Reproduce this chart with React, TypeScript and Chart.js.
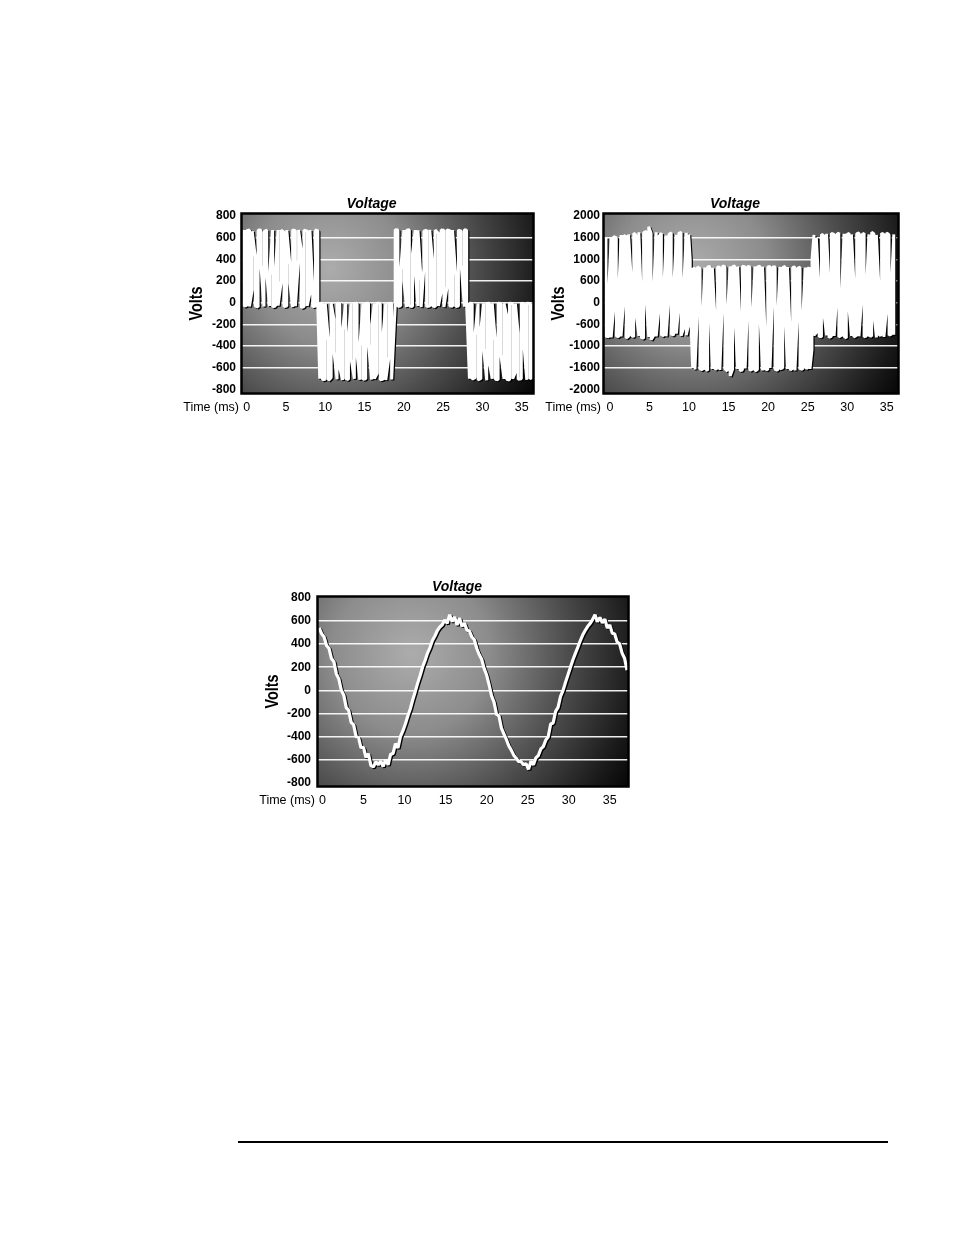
import React, { useEffect, useRef } from 'react';
import { Chart, registerables, LinearScale } from 'chart.js';

Chart.register(...registerables);

// ---------------- shared axis data ----------------
const X_TICKS = [0, 5, 10, 15, 20, 25, 30, 35];
const Y_TICKS_800 = [-800, -600, -400, -200, 0, 200, 400, 600, 800];
const Y_TICKS_2000 = [-2000, -1600, -1000, -600, 0, 600, 1000, 1600, 2000];

const TITLE = 'Voltage';
const Y_TITLE = 'Volts';
const X_TITLE = 'Time (ms)';

// ---------------- chart 1: two-level PWM (pulse time, top, bottom in volts) ----------------
const P1_TIME = [
  -0.35, 0.0, 0.35, 0.7, 1.1, 1.45, 1.8, 2.2, 2.55, 2.9, 3.3, 3.65, 4.0, 4.4, 4.75, 5.1, 5.5, 5.85, 6.2, 6.6, 6.95, 7.3, 7.7, 8.05, 8.4, 8.75, 9.05,
  9.3, 9.65, 10.0, 10.4, 10.75, 11.1, 11.5, 11.85, 12.2, 12.6, 12.95, 13.3, 13.7, 14.05, 14.4, 14.8, 15.15, 15.5, 15.9, 16.25, 16.6, 17.0, 17.35, 17.7, 18.1, 18.45,
  18.9, 19.25, 19.6, 20.0, 20.35, 20.7, 21.1, 21.45, 21.8, 22.2, 22.55, 22.9, 23.3, 23.65, 24.0, 24.4, 24.75, 25.1, 25.5, 25.85, 26.2, 26.6, 26.95, 27.3, 27.7, 28.0,
  28.35, 28.7, 29.05, 29.45, 29.8, 30.15, 30.55, 30.9, 31.25, 31.65, 32.0, 32.35, 32.75, 33.1, 33.45, 33.85, 34.2, 34.55, 34.95, 35.3, 35.65, 36.05, 36.3,
];
const P1_HIGH = [
  670, 665, 670, 660, 420, 668, 670, 655, 670, 250, 670, 300, 670, 668, 650, 670, 350, 672, 665, 670, 480, 670, 660, 670, 150, 670, 665,
  -5, -8, -5, -350, -5, -150, -5, -8, -250, -6, -300, -5, -8, -5, -400, -5, -6, -5, -200, -8, -5, -5, -300, -5, -8, -5,
  672, 670, 300, 670, 668, 672, 450, 670, 668, 200, 660, 670, 672, 380, 670, 640, 670, 668, 672, 665, 670, 250, 670, 660, 672, 668,
  -5, -8, -300, -6, -250, -5, -8, -5, -5, -350, -5, -8, -5, -120, -5, -6, -8, -280, -5, -10, -5, -8, -5,
];
const P1_LOW = [
  -30, -25, -35, 120, -30, -40, 350, -35, 260, -30, -38, -30, -25, 200, -35, -30, 180, -40, -32, 400, -45, -35, -30, 90, -38, -30, -35,
  -700, -710, -705, -715, -690, -450, -705, -600, -712, -700, -708, -520, -700, -480, -710, -705, -700, -380, -708, -700, -650, -710, -705, -712, -500, -708,
  -30, -35, -28, 200, -40, -30, -35, 280, -30, -40, 320, -35, -30, -28, -38, -30, 100, -40, 150, -30, -32, -35, -30, 350, -35, -30,
  -700, -705, -690, -710, -700, -420, -715, -560, -700, -705, -710, -480, -700, -705, -712, -700, -640, -705, -700, -400, -710, -700, -690,
];

// ---------------- chart 2: multi-level PWM ----------------
const P2_TIME = [
  -0.5, -0.15, 0.15, 0.45, 0.8, 1.1, 1.4, 1.75, 2.05, 2.35, 2.7, 3.0, 3.3, 3.65, 3.95, 4.25, 4.6, 4.9, 5.2, 5.55, 5.85, 6.15, 6.5, 6.8, 7.1, 7.45, 7.75, 8.05, 8.4, 8.7, 9.0, 9.35, 9.65, 9.95,
  10.15,
  10.45, 10.75, 11.05, 11.4, 11.7, 12.0, 12.35, 12.65, 12.95, 13.3, 13.6, 13.9, 14.25, 14.55, 14.85, 15.2, 15.5, 15.8, 16.15, 16.45, 16.75, 17.1, 17.4, 17.7, 18.05, 18.35, 18.65, 19.0, 19.3, 19.6, 19.95, 20.25, 20.55, 20.9, 21.2, 21.5, 21.85, 22.15, 22.45, 22.8, 23.1, 23.4, 23.75, 24.05, 24.35, 24.7, 25.0, 25.3,
  25.55,
  25.8, 26.1, 26.45, 26.75, 27.05, 27.4, 27.7, 28.0, 28.35, 28.65, 28.95, 29.3, 29.6, 29.9, 30.25, 30.55, 30.85, 31.2, 31.5, 31.8, 32.15, 32.45, 32.75, 33.1, 33.4, 33.7, 34.05, 34.35, 34.65, 35.0, 35.3, 35.6, 35.9,
];
const P2_HIGH = [
  1600, 450, 1610, 1620, 1600, 300, 1650, 1640, 1620, 1660, 600, 1680, 1650, 1700, 200, 1690, 1720, 1800, 1680, 500, 1700, 1620, 1680, 350, 1640, 1660, 1690, 400, 1650, 1680, 1700, 600, 1690, 1660,
  1000,
  820, 840, 860, 830, -400, 850, 860, 870, 850, -500, 860, 855, 880, 860, -300, 870, 865, 880, 870, -600, 875, 860, 870, 865, -200, 870, 860, 875, 865, -700, 860, 870, 855, 865, -400, 860, 850, 870, 860, -800, 850, 860, 840, 855, -500, 850, 840, 830,
  1000,
  1650, 1600, 400, 1660, 1640, 1670, 500, 1680, 1660, 1650, 1690, 300, 1670, 1650, 1680, 1660, 600, 1670, 1690, 1650, 1680, 450, 1660, 1700, 1670, 1650, 300, 1680, 1660, 1690, 1650, 500, 1660,
];
const P2_LOW = [
  -820, -830, -840, -200, -810, -830, -820, 100, -850, -820, -800, -830, -300, -810, -840, -860, 0, -830, -880, -800, -820, -250, -790, -810, -820, 150, -780, -800, -770, -100, -810, -650, -800, -600,
  0,
  -1600, -1630, -300, -1620, -1640, -1610, -1650, -200, -1620, -1630, -1600, -1640, 100, -1620, -1660, -1750, -1630, -400, -1620, -1650, -1640, -1610, -100, -1650, -1620, -1660, -1630, -500, -1650, -1620, -1640, -1600, 0, -1630, -1650, -1620, -1600, -300, -1620, -1640, -1610, -1650, -200, -1620, -1630, -1600, -1610, -1620,
  -1100,
  -800, -750, -820, -830, -300, -800, -840, -820, -810, 100, -830, -800, -820, -850, -200, -810, -830, -800, -820, 0, -830, -810, -800, -820, -350, -840, -800, -790, -830, -150, -800, -780, -790,
];

// ---------------- chart 3: filtered sine output ----------------
const S3_TIME = [
  -0.4, -0.1, 0.2, 0.5, 0.8, 1.1, 1.4, 1.7, 2.0, 2.3, 2.6, 2.9, 3.2, 3.5, 3.8, 4.1, 4.4, 4.7, 5.0, 5.3,
  5.6, 5.9, 6.2, 6.5, 6.8, 7.1, 7.4, 7.7, 8.0, 8.3, 8.6, 8.9, 9.2, 9.5, 9.8, 10.1, 10.4, 10.7, 11.0, 11.3,
  11.6, 11.9, 12.2, 12.5, 12.8, 13.1, 13.4, 13.7, 14.0, 14.3, 14.6, 14.9, 15.2, 15.5, 15.8, 16.1, 16.4, 16.7, 17.0, 17.3,
  17.6, 17.9, 18.2, 18.5, 18.8, 19.1, 19.4, 19.7, 20.0, 20.3, 20.6, 20.9, 21.2, 21.5, 21.8, 22.1, 22.4, 22.7, 23.0, 23.3,
  23.6, 23.9, 24.2, 24.5, 24.8, 25.1, 25.4, 25.7, 26.0, 26.3, 26.6, 26.9, 27.2, 27.5, 27.8, 28.1, 28.4, 28.7, 29.0, 29.3,
  29.6, 29.9, 30.2, 30.5, 30.8, 31.1, 31.4, 31.7, 32.0, 32.3, 32.6, 32.9, 33.2, 33.5, 33.8, 34.1, 34.4, 34.7, 35.0, 35.3,
  35.6, 35.9, 36.2, 36.5, 36.8, 37.1,
];
const S3_VOLTS = [
  540, 490, 462, 388, 362, 275, 246, 140, 98, 0, -42, -150, -175, -278, -300, -402, -410, -498, -495, -580,
  -550, -650, -665, -620, -645, -615, -660, -600, -645, -555, -548, -462, -500, -402, -352, -292, -222, -162, -82, -12,
  62, 128, 202, 258, 322, 370, 432, 470, 518, 548, 568, 610, 580, 655, 595, 635, 565, 625, 555, 580,
  522, 512, 462, 438, 362, 308, 268, 188, 132, 48, -48, -102, -208, -222, -328, -378, -426, -482, -518, -562,
  -588, -618, -618, -645, -635, -685, -615, -645, -585, -565, -508, -488, -432, -402, -292, -283, -182, -148, -52, -3,
  68, 132, 198, 262, 318, 372, 428, 478, 518, 552, 578, 612, 655, 595, 630, 585, 615, 540, 565, 495,
  488, 418, 402, 322, 278, 175,
];

const FONT = '"Liberation Sans", Arial, Helvetica, sans-serif';
Chart.defaults.font.family = FONT;

// Scale whose labelled ticks are evenly spaced although their values are not.
class SteppedVoltScale extends LinearScale {
  static id = 'steppedVolt';
  static defaults = {};
  valueToStep(v: number): number {
    const k = Y_TICKS_2000;
    const last = k.length - 1;
    if (v <= k[0]) return (v - k[0]) / (k[1] - k[0]);
    if (v >= k[last]) return last + (v - k[last]) / (k[last] - k[last - 1]);
    for (let i = 0; i < last; i++) {
      if (v >= k[i] && v <= k[i + 1]) return i + (v - k[i]) / (k[i + 1] - k[i]);
    }
    return 0;
  }
  getPixelForValue(value: number) {
    if (value === null || value === undefined || isNaN(value)) return NaN;
    const o: any = this.options;
    const s0 = this.valueToStep(o.min);
    const s1 = this.valueToStep(o.max);
    return this.getPixelForDecimal((this.valueToStep(value) - s0) / (s1 - s0));
  }
}
Chart.register(SteppedVoltScale as any);

function pulsePath(times: number[], highs: number[], lows: number[]) {
  const pts: { x: number; y: number }[] = [];
  times.forEach((t, i) => {
    if (i % 2 === 0) {
      pts.push({ x: t, y: highs[i] });
      pts.push({ x: t, y: lows[i] });
    } else {
      pts.push({ x: t, y: lows[i] });
      pts.push({ x: t, y: highs[i] });
    }
  });
  return pts;
}

function seriesPath(times: number[], values: number[]) {
  return times.map((t, i) => ({ x: t, y: values[i] }));
}

function decorPlugin() {
  return {
    id: 'decor',
    beforeDraw(chart: any) {
      const { ctx, chartArea: a } = chart;
      const w = a.right - a.left;
      const h = a.bottom - a.top;
      const cx = a.left + 0.3 * w;
      const cy = a.top + 0.3 * h;
      const g = ctx.createRadialGradient(cx, cy, 0, cx, cy, 0.85 * w);
      g.addColorStop(0, '#acacac');
      g.addColorStop(0.3, '#8c8c8c');
      g.addColorStop(0.6, '#4c4c4c');
      g.addColorStop(0.85, '#1a1a1a');
      g.addColorStop(1, '#000000');
      ctx.save();
      ctx.fillStyle = g;
      ctx.fillRect(a.left, a.top, w, h);
      ctx.restore();
    },
    beforeDatasetsDraw(chart: any) {
      const ctx = chart.ctx;
      ctx.save();
      ctx.shadowColor = 'rgba(0,0,0,1)';
      ctx.shadowOffsetX = 1.2;
      ctx.shadowOffsetY = 1;
      ctx.shadowBlur = 0;
    },
    afterDatasetsDraw(chart: any) {
      const { ctx, chartArea: a } = chart;
      ctx.restore();
      ctx.save();
      ctx.strokeStyle = '#000';
      ctx.lineWidth = 2.5;
      ctx.strokeRect(a.left - 0.5, a.top - 0.5, a.right - a.left + 1, a.bottom - a.top + 1);
      ctx.restore();
    },
    afterDraw(chart: any) {
      const { ctx, chartArea: a } = chart;
      ctx.save();
      ctx.fillStyle = '#000';
      ctx.textBaseline = 'middle';
      ctx.textAlign = 'center';
      ctx.font = `italic bold 14px ${FONT}`;
      ctx.fillText(TITLE, (a.left + a.right) / 2 - 16, a.top - 10);
      ctx.textAlign = 'right';
      ctx.font = `12.5px ${FONT}`;
      ctx.fillText(X_TITLE, a.left - 3, a.bottom + 14.5);
      ctx.translate(a.left - 45, (a.top + a.bottom) / 2);
      ctx.rotate(-Math.PI / 2);
      ctx.scale(0.8, 1);
      ctx.textAlign = 'center';
      ctx.font = `bold 18px ${FONT}`;
      ctx.fillText(Y_TITLE, 0, 0);
      ctx.restore();
    },
  };
}

type Opts = {
  points: { x: number; y: number }[];
  lineWidth: number;
  xMin: number;
  xMax: number;
  yMin: number;
  yMax: number;
  yTicks: number[];
  yType: string;
  yAxisW: number;
  xAxisH: number;
  padTop: number;
  padRight: number;
  yPad: number;
};

function buildConfig(o: Opts): any {
  const hidden = [o.yTicks[0], o.yTicks[o.yTicks.length - 1]];
  return {
    type: 'scatter',
    data: {
      datasets: [
        {
          data: o.points,
          showLine: true,
          borderColor: '#ffffff',
          borderWidth: o.lineWidth,
          borderJoinStyle: 'bevel',
          pointRadius: 0,
          pointHoverRadius: 0,
          tension: 0,
          fill: false,
        },
      ],
    },
    options: {
      responsive: false,
      animation: false,
      devicePixelRatio: 1,
      events: [],
      layout: { padding: { top: o.padTop, right: o.padRight, left: 0, bottom: 0 } },
      plugins: { legend: { display: false }, tooltip: { enabled: false }, title: { display: false } },
      scales: {
        x: {
          type: 'linear',
          min: o.xMin,
          max: o.xMax,
          afterBuildTicks: (s: any) => {
            s.ticks = X_TICKS.map((v) => ({ value: v }));
          },
          afterFit: (s: any) => {
            s.height = o.xAxisH;
          },
          grid: { display: false, drawTicks: false },
          border: { display: false },
          ticks: {
            autoSkip: false,
            maxRotation: 0,
            padding: 7,
            color: '#000',
            font: { size: 12.5 },
            callback: (v: any) => String(v),
          },
        },
        y: {
          type: o.yType,
          min: o.yMin,
          max: o.yMax,
          afterBuildTicks: (s: any) => {
            s.ticks = o.yTicks.map((v) => ({ value: v }));
          },
          afterFit: (s: any) => {
            s.width = o.yAxisW;
          },
          grid: {
            drawTicks: false,
            lineWidth: 1.5,
            color: (c: any) =>
              c.tick && hidden.includes(c.tick.value) ? 'rgba(0,0,0,0)' : 'rgba(255,255,255,0.92)',
          },
          border: { display: false },
          ticks: {
            padding: o.yPad,
            color: '#000',
            font: { size: 12, weight: 'bold' },
            callback: (v: any) => String(v),
          },
        },
      },
    },
    plugins: [decorPlugin()],
  };
}

function VoltChart(props: { left: number; top: number; width: number; height: number; opts: Opts }) {
  const ref = useRef<HTMLCanvasElement>(null);
  useEffect(() => {
    if (!ref.current) return;
    const chart = new Chart(ref.current, buildConfig(props.opts));
    return () => chart.destroy();
  }, []);
  return (
    <canvas
      ref={ref}
      width={props.width}
      height={props.height}
      style={{ position: 'absolute', left: props.left, top: props.top, width: props.width, height: props.height }}
    />
  );
}

export default function App() {
  const chart1: Opts = {
    points: pulsePath(P1_TIME, P1_HIGH, P1_LOW),
    lineWidth: 3.0,
    xMin: -0.6,
    xMax: 36.44,
    yMin: -832,
    yMax: 818,
    yTicks: Y_TICKS_800,
    yType: 'linear',
    yAxisW: 72,
    xAxisH: 29,
    padTop: 24,
    padRight: 5,
    yPad: 6,
  };
  const chart2: Opts = {
    points: pulsePath(P2_TIME, P2_HIGH, P2_LOW),
    lineWidth: 2.9,
    xMin: -0.76,
    xMax: 36.43,
    yMin: -2064,
    yMax: 2036,
    yTicks: Y_TICKS_2000,
    yType: 'steppedVolt',
    yAxisW: 64,
    xAxisH: 29,
    padTop: 24,
    padRight: 12,
    yPad: 4,
  };
  const chart3: Opts = {
    points: seriesPath(S3_TIME, S3_VOLTS),
    lineWidth: 3.2,
    xMin: -0.54,
    xMax: 37.22,
    yMin: -829,
    yMax: 808,
    yTicks: Y_TICKS_800,
    yType: 'linear',
    yAxisW: 78,
    xAxisH: 29,
    padTop: 27,
    padRight: 12,
    yPad: 7,
  };
  return (
    <div>
      <VoltChart left={170} top={190} width={368} height={232} opts={chart1} />
      <VoltChart left={540} top={190} width={370} height={232} opts={chart2} />
      <VoltChart left={240} top={570} width={400} height={245} opts={chart3} />
      <div style={{ position: 'absolute', left: 238, top: 1141, width: 650, height: 1.5, background: '#000' }} />
    </div>
  );
}
